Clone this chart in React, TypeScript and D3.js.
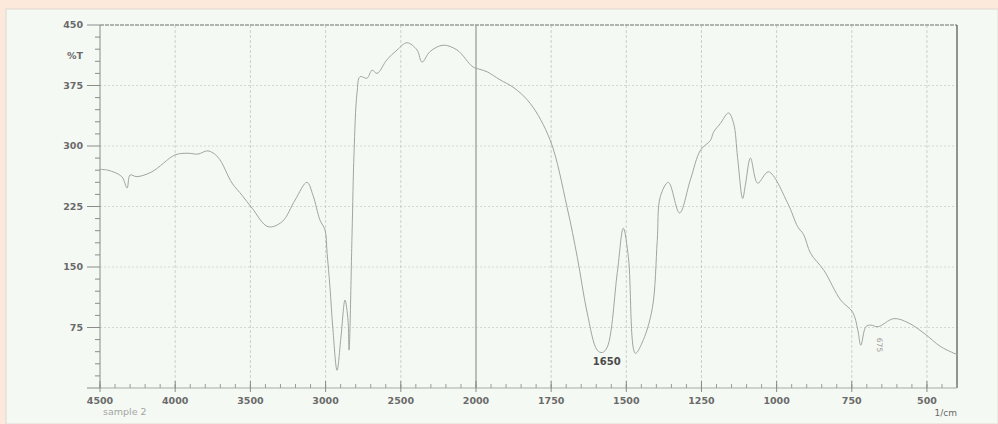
import * as React from 'react';
import * as d3 from 'd3';

// spectrum: wavenumber (1/cm) and %T
const wavenumbers = [
  4500, 4447, 4355, 4320, 4300, 4255, 4155, 4000, 3915, 3848, 3782, 3715, 3622, 3556, 3489,
  3383, 3290, 3203, 3124, 3084, 3037, 3004, 2990, 2971, 2951, 2924, 2898, 2871, 2851, 2844,
  2824, 2811, 2791, 2771, 2725, 2691, 2658, 2592, 2525, 2459, 2392, 2359, 2306, 2219, 2126,
  2020, 1987, 1963, 1920, 1877, 1820, 1753, 1697, 1663, 1630, 1597, 1580, 1563, 1530, 1510,
  1493, 1470, 1443, 1413, 1397, 1387, 1360, 1323, 1287, 1253, 1220, 1210, 1187, 1160, 1143,
  1130, 1113, 1103, 1087, 1063, 1027, 963, 930, 910, 887, 843, 787, 747, 730, 720,
  703, 687, 663, 610, 563, 510, 453, 397,
];
const transmittance = [
  271, 270, 262, 248, 264, 262, 268, 289, 291, 290, 294, 286, 254, 239, 223,
  200, 206, 233, 255, 239, 208, 196, 167, 125, 72, 22, 63, 109, 84, 47,
  192, 291, 366, 386, 384, 394, 390, 407, 419, 428, 419, 404, 417, 425, 419,
  398, 395, 392, 382, 373, 353, 307, 224, 162, 93, 47, 44, 51, 143, 198,
  162, 43, 60, 100, 183, 237, 255, 217, 258, 295, 307, 317, 328, 341, 328,
  286, 235, 254, 285, 254, 268, 229, 200, 190, 167, 146, 109, 94, 72, 53,
  76, 78, 76, 86, 81, 68, 51, 41,
];

const yTicks = [450, 375, 300, 225, 150, 75];
const xTicks = [4500, 4000, 3500, 3000, 2500, 2000, 1750, 1500, 1250, 1000, 750, 500];

const W = 998;
const H = 424;

export default function App() {
  // spectrometer axis: 2x expansion below 2000 1/cm
  const x = d3.scaleLinear().domain([4500, 2000, 400]).range([100, 476, 957]);
  const y = d3.scaleLinear().domain([0, 450]).range([388, 25]);

  const pts: [number, number][] = wavenumbers.map((w, i) => [w, transmittance[i]]);
  const line = d3.line<[number, number]>()
    .x(d => x(d[0]))
    .y(d => y(d[1]))
    .curve(d3.curveCatmullRom.alpha(0.5));

  const minorY = d3.range(0, 451, 15);
  const minorX = [...d3.range(4500, 2000, -100), ...d3.range(2000, 399, -50)];
  const gridX = xTicks.filter(t => t !== 4500 && t !== 2000);
  const gridY = yTicks.filter(t => t !== 450);
  const [x0, x1] = [x(4500), x(400)];
  const [y0, y1] = [y(0), y(450)];

  return (
    <svg width={W} height={H} style={{ position: 'absolute', left: 0, top: 0, display: 'block' }}
      fontFamily="'DejaVu Sans', sans-serif">
      <rect width={W} height={H} fill="#fce9dc" />
      <rect x={6} y={9} width={W - 6} height={H - 9} fill="#f5f9f4" stroke="#e2d8cf" strokeWidth={1} />

      {/* grid */}
      {gridY.map(t => (
        <line key={'gy' + t} x1={x0} x2={x1} y1={y(t)} y2={y(t)} stroke="#cdd0cb" strokeWidth={0.8} strokeDasharray="2,2" />
      ))}
      {gridX.map(t => (
        <line key={'gx' + t} x1={x(t)} x2={x(t)} y1={y1} y2={y0} stroke="#c2c5c0" strokeWidth={0.8} strokeDasharray="3,2" />
      ))}
      <line x1={x(2000)} x2={x(2000)} y1={y1} y2={y0} stroke="#8c8e8a" strokeWidth={1.1} />

      {/* frame */}
      <line x1={x0} x2={x1} y1={y1} y2={y1} stroke="#9a9c98" strokeWidth={1.3} strokeDasharray="4,1" />
      <line x1={x1} x2={x1} y1={y1} y2={y0} stroke="#6f716d" strokeWidth={1.5} />
      <line x1={x0} x2={x0} y1={y1} y2={y0} stroke="#8a8c88" strokeWidth={1} />
      <line x1={x0} x2={x1} y1={y0} y2={y0} stroke="#a8aaa5" strokeWidth={1} />

      {/* y ticks */}
      {minorY.map(t => (
        <line key={'my' + t} x1={x0 - (t % 75 === 0 ? 13 : 5)} x2={x0} y1={y(t)} y2={y(t)} stroke="#8a8c88" strokeWidth={1} />
      ))}
      {yTicks.map(t => (
        <text key={'ty' + t} x={83} y={y(t)} dy="0.35em" textAnchor="end" fontSize={9.5} fontWeight="bold" fill="#6a6a6a">{t}</text>
      ))}
      <text x={83} y={y(412.5)} dy="0.35em" textAnchor="end" fontSize={9.5} fontWeight="bold" fill="#6a6a6a">%T</text>

      {/* x ticks */}
      {minorX.map(t => (
        <line key={'mx' + t} x1={x(t)} x2={x(t)} y1={y0 - 4} y2={y0} stroke="#9a9c98" strokeWidth={1} />
      ))}
      {xTicks.map(t => (
        <line key={'tx' + t} x1={x(t)} x2={x(t)} y1={y0 - 7} y2={y0 + 4} stroke="#8a8c88" strokeWidth={1} />
      ))}
      {xTicks.map(t => (
        <text key={'lx' + t} x={x(t)} y={404} textAnchor="middle" fontSize={9.5} fontWeight="bold" fill="#6a6a6a">{t}</text>
      ))}
      <text x={103} y={415} fontSize={9.5} fill="#a3a5a1">sample 2</text>
      <text x={957} y={416} textAnchor="end" fontSize={9} fill="#6a6a6a">1/cm</text>

      {/* spectrum */}
      <path d={line(pts) ?? ''} fill="none" stroke="#a2a49f" strokeWidth={1} />

      {/* peak labels */}
      <text x={x(1565)} y={365} textAnchor="middle" fontSize={10} fontWeight="bold" fill="#4a4a4a">1650</text>
      <text transform={`translate(${x(665)},${345}) rotate(90)`} textAnchor="middle" fontSize={7.5} fill="#9a9c98">675</text>
    </svg>
  );
}
